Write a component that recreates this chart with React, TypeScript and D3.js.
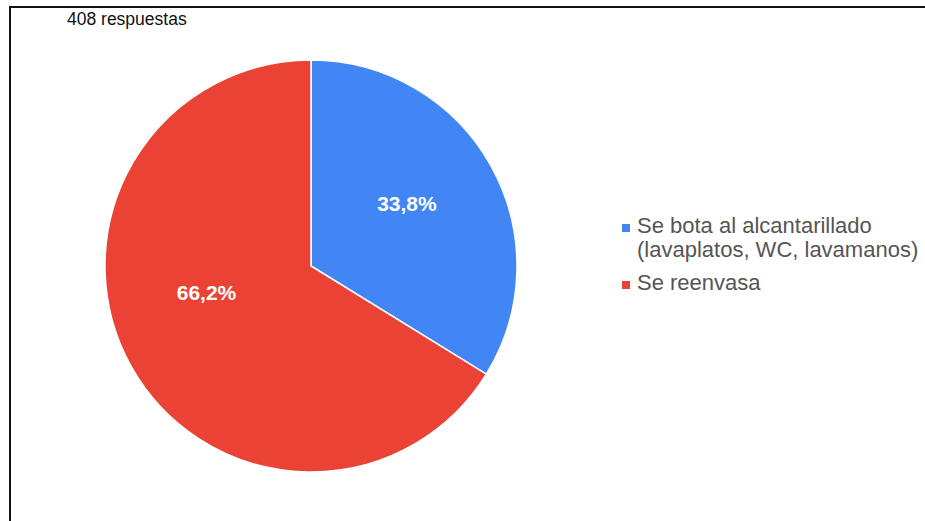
import React from "react";
import * as d3 from "d3";

const labels = ["Se bota al alcantarillado (lavaplatos, WC, lavamanos)", "Se reenvasa"];
const legendLines = [["Se bota al alcantarillado", "(lavaplatos, WC, lavamanos)"], ["Se reenvasa"]];
const values = [33.8, 66.2];
const colors = ["#4285F4", "#EA4335"];
const totalText = "408 respuestas";

const W = 925;
const H = 521;

// where the percentage sits inside each slice: [angle in degrees from 12 o'clock, fraction of radius]
const labelSpots: [number, number][] = [
  [56.7, 0.557],
  [256, 0.523],
];

const App: React.FC = () => {
  const cx = 311;
  const cy = 266;
  const radius = 206;

  const data = labels.map((label, i) => ({ label, value: values[i] }));
  const pie = d3.pie<{ label: string; value: number }>().value((d) => d.value).sort(null);
  const arcs = pie(data);
  const arc = d3.arc<d3.PieArcDatum<{ label: string; value: number }>>().innerRadius(0).outerRadius(radius);

  const fmt = (v: number) => v.toFixed(1).replace(".", ",") + "%";

  return (
    <svg
      width={W}
      height={H}
      style={{ position: "absolute", left: 0, top: 0, background: "#fff" }}
      fontFamily="Arial, 'Liberation Sans', sans-serif"
    >
      <path d={`M10,${H} L10,7 L${W},7`} fill="none" stroke="#111" strokeWidth={2} />
      <text x={67} y={25} fontSize={17.5} fill="#111">
        {totalText}
      </text>
      <g transform={`translate(${cx},${cy})`}>
        {arcs.map((d, i) => (
          <path key={i} d={arc(d) ?? ""} fill={colors[i]} stroke="#fff" strokeWidth={1.5} />
        ))}
        {arcs.map((d, i) => {
          const [deg, frac] = labelSpots[i];
          const a = (deg * Math.PI) / 180;
          const x = Math.sin(a) * radius * frac;
          const y = -Math.cos(a) * radius * frac;
          return (
            <text
              key={"l" + i}
              x={x}
              y={y}
              textAnchor="middle"
              dominantBaseline="central"
              fontSize={21}
              fontWeight="bold"
              fill="#fff"
            >
              {fmt(d.data.value)}
            </text>
          );
        })}
      </g>
      {legendLines.map((lines, i) => {
        const base = i === 0 ? 233 : 290;
        return (
          <g key={"lg" + i}>
            <rect x={622} y={base - 9} width={8} height={8} fill={colors[i]} />
            {lines.map((ln, j) => (
              <text key={j} x={637} y={base + j * 24} fontSize={22} fill="#555">
                {ln}
              </text>
            ))}
          </g>
        );
      })}
    </svg>
  );
};

export default App;
